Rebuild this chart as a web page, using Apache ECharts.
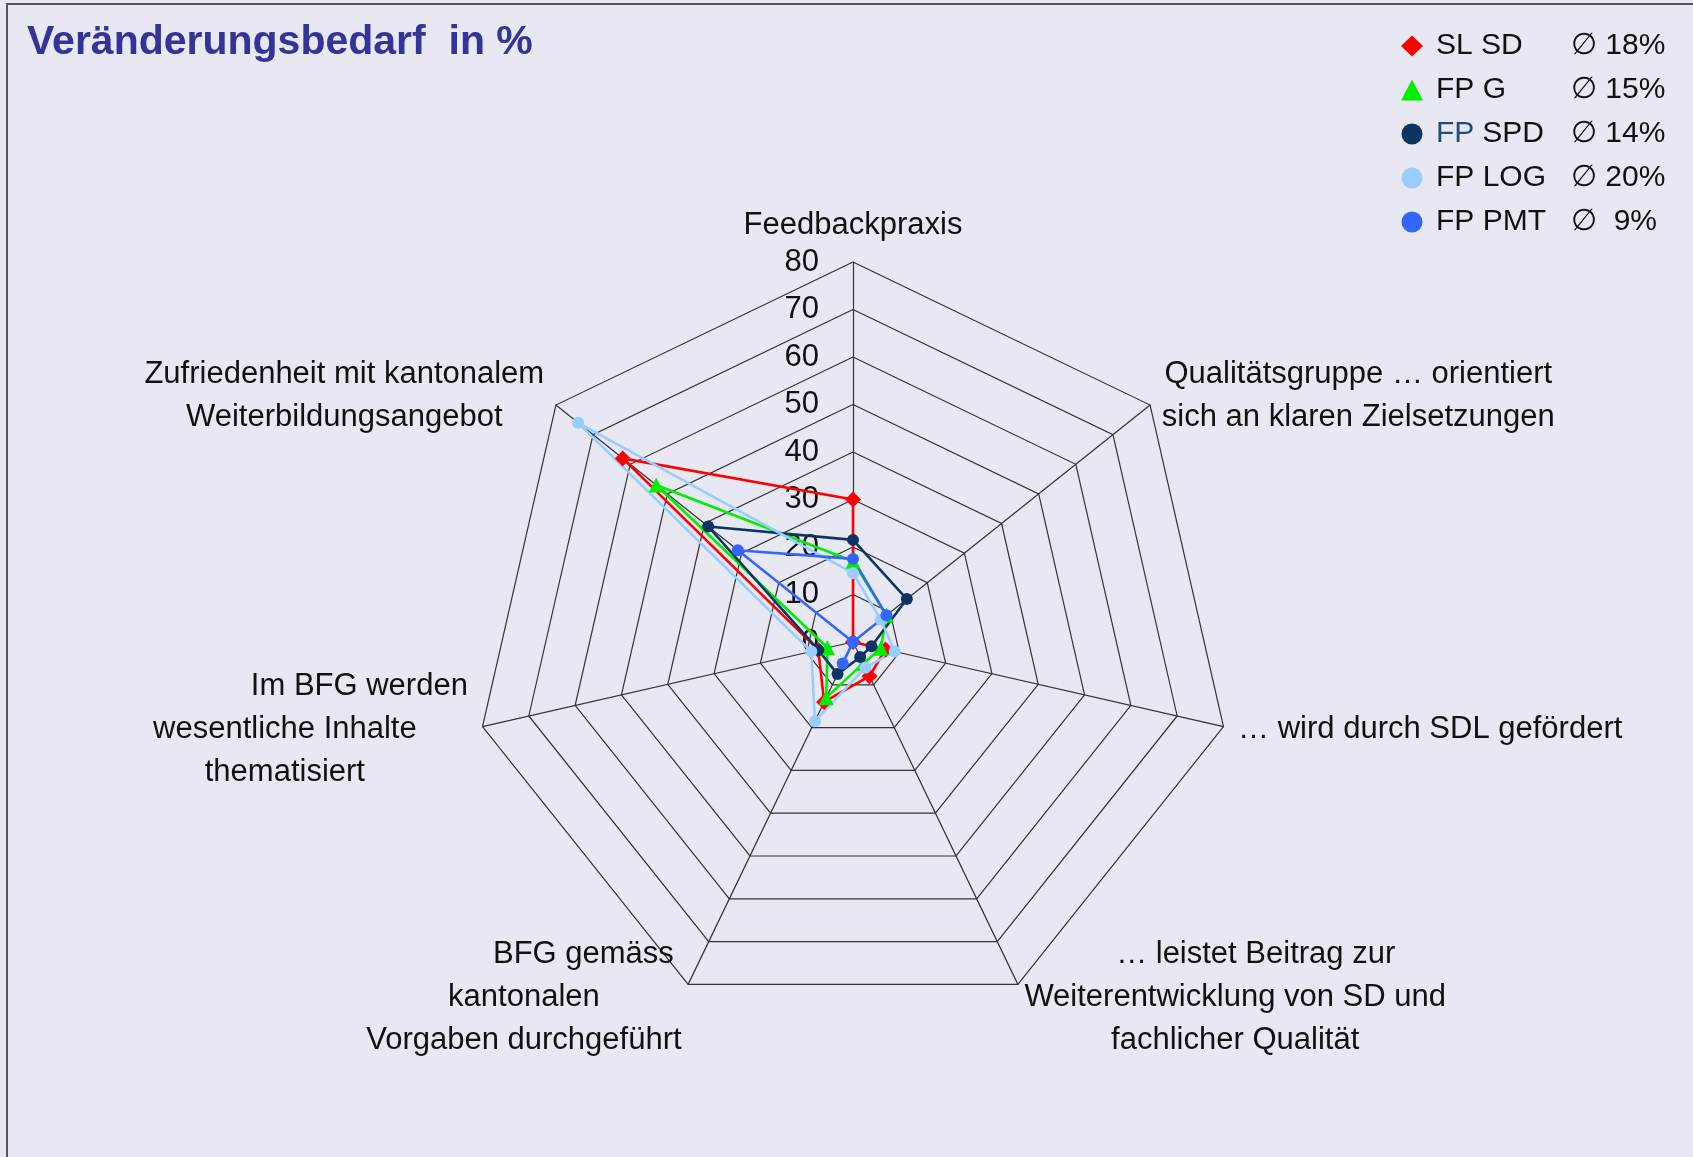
<!DOCTYPE html>
<html>
<head>
<meta charset="utf-8">
<title>Veränderungsbedarf in %</title>
<script src="https://cdn.jsdelivr.net/npm/echarts@6/dist/echarts.min.js"></script>
<style>
    html, body { margin: 0; padding: 0; background: #e8e8f2; }
    #chart { position: absolute; left: 0; top: 0; width: 1693px; height: 1157px; }
    #frame { position: absolute; left: 6px; top: 3px; right: 0; bottom: 0; border-left: 2px solid #555; border-top: 2px solid #555; pointer-events: none; }
</style>
</head>
<body>
<div id="chart"></div>
<div id="frame"></div>
<script>
// Achsen im Uhrzeigersinn, beginnend oben
const axisNames = [
    'Feedbackpraxis',
    'Qualitätsgruppe … orientiert\nsich an klaren Zielsetzungen',
    '… wird durch SDL gefördert',
    '… leistet Beitrag zur\nWeiterentwicklung von SD und\nfachlicher Qualität',
    'BFG gemäss\nkantonalen\nVorgaben durchgeführt',
    'Im BFG werden\nwesentliche Inhalte\nthematisiert',
    'Zufriedenheit mit kantonalem\nWeiterbildungsangebot',
]
const tickValues = [0, 10, 20, 30, 40, 50, 60, 70, 80]

const seriesNames = ['SL SD', 'FP G', 'FP SPD', 'FP LOG', 'FP PMT']
const averages = ['18%', '15%', '14%', '20%', ' 9%']

const slSd = [30, 0, 7, 8, 14, 7.5, 62]
const fpG = [17, 9, 6, 5, 13, 5.5, 53]
const fpSpd = [21.5, 14.5, 4, 3.5, 7.5, 7.5, 39]
const fpLog = [14.5, 7.5, 9, 6, 18.5, 9, 74]
const fpPmt = [17.5, 9, 0, 0, 5, 0, 31]

const FONT = "'Liberation Sans', Arial, sans-serif"

// ECharts legt die Indikatoren gegen den Uhrzeigersinn an -> umsortieren
const order = [0, 6, 5, 4, 3, 2, 1]
const reorder = arr => order.map(i => arr[i])

const styles = [
    { color: '#ff0000', symbol: 'diamond', size: 16 },
    { color: '#00ee00', symbol: 'triangle', size: 15 },
    { color: '#0d3463', symbol: 'circle', size: 12 },
    { color: '#99ccff', symbol: 'circle', size: 12 },
    { color: '#3366ff', symbol: 'circle', size: 12 },
]
const values = [slSd, fpG, fpSpd, fpLog, fpPmt]

// Einrückung einzelner Zeilen wie im Original (linker Innenabstand in px)
const lineIndent = [
    { line: '… leistet Beitrag zur', pad: 41 },
    { line: 'BFG gemäss', pad: 119 },
    { line: 'Im BFG werden', pad: 149 },
]

const nameRich = {
    c: { align: 'center', fontFamily: FONT, fontSize: 31, lineHeight: 43, color: '#111' },
}
lineIndent.forEach((d, k) => {
    nameRich['p' + k] = { align: 'center', fontFamily: FONT, fontSize: 31, lineHeight: 43, color: '#111', padding: [0, 0, 0, d.pad] }
})

const indicator = reorder(axisNames).map(name => ({
    name: name,
    min: tickValues[0],
    max: tickValues[tickValues.length - 1],
}))
indicator[0].axisLabel = { show: true, margin: 34, fontSize: 31, color: '#111', fontFamily: FONT }

const chart = echarts.init(document.getElementById('chart'))
const option = {
    backgroundColor: 'transparent',
    animation: false,
    title: {
        text: 'Veränderungsbedarf  in %',
        left: 27,
        top: 22,
        padding: 0,
        textStyle: { fontFamily: FONT, fontWeight: 'bold', fontSize: 41, color: '#333399' },
    },
    legend: {
        orient: 'vertical',
        left: 1396,
        top: 19,
        itemGap: 0,
        itemWidth: 22,
        itemHeight: 21,
        data: seriesNames.map((n, i) => ({ name: n, icon: styles[i].symbol })),
        formatter: function (name) {
            const i = seriesNames.indexOf(name)
            let label
            if (name === 'FP SPD') {
                label = '{fp|FP}{ns| SPD}'
            } else {
                label = '{n|' + name + '}'
            }
            return label + '{a|∅ ' + averages[i] + '}'
        },
        textStyle: {
            fontFamily: FONT,
            fontSize: 30,
            lineHeight: 44,
            color: '#111',
            rich: {
                n: { fontFamily: FONT, fontSize: 30, lineHeight: 44, width: 135, padding: [0, 0, 0, 8], color: '#111' },
                fp: { fontFamily: FONT, fontSize: 30, lineHeight: 44, width: 38, padding: [0, 0, 0, 8], color: '#1f4e79' },
                ns: { fontFamily: FONT, fontSize: 30, lineHeight: 44, width: 97, color: '#111' },
                a: { fontFamily: FONT, fontSize: 30, lineHeight: 44, color: '#111' },
            },
        },
    },
    radar: {
        center: [853, 642],
        radius: 380,
        startAngle: 90,
        shape: 'polygon',
        splitNumber: tickValues.length - 1,
        nameGap: 15,
        indicator: indicator,
        axisName: {
            color: '#111',
            fontFamily: FONT,
            fontSize: 31,
            formatter: function (name) {
                return name.split('\n').map(l => {
                    const k = lineIndent.findIndex(d => d.line === l)
                    return '{' + (k >= 0 ? 'p' + k : 'c') + '|' + l + '}'
                }).join('\n')
            },
            rich: nameRich,
        },
        axisLabel: { show: false },
        axisTick: { show: false },
        axisLine: { lineStyle: { color: '#333', width: 1.2 } },
        splitLine: { lineStyle: { color: '#333', width: 1.2 } },
        splitArea: { show: false },
    },
    series: [
        {
            type: 'radar',
            data: seriesNames.map((n, i) => ({
                name: n,
                value: reorder(values[i]),
                symbol: styles[i].symbol,
                symbolSize: styles[i].size,
                lineStyle: { color: styles[i].color, width: 2.6 },
                itemStyle: { color: styles[i].color },
            })),
        },
    ],
}
chart.setOption(option)
window.addEventListener('resize', () => chart.resize())
</script>
</body>
</html>
